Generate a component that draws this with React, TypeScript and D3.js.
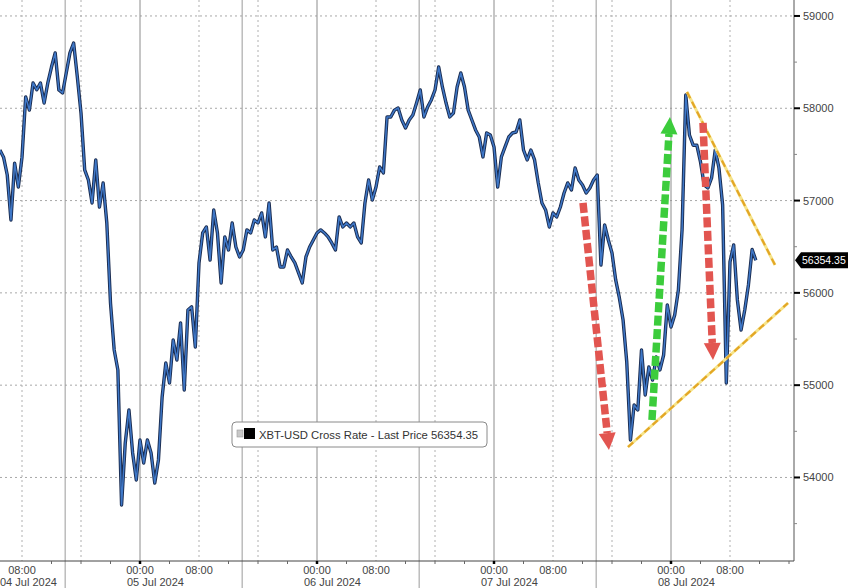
import React from "react";
import * as d3 from "d3";

// ---- data (hours measured from 04 Jul 2024 00:00) ----
const startHour = 5;
const stepHours = 0.5;
const prices: number[] = [
  57548, 57470, 57277, 56790, 57405, 57147, 57470, 58123, 57980, 58274,
  58200, 58274, 58057, 58274, 58447, 58600, 58198, 58166, 58382, 58600,
  58707, 58340, 57949, 57332, 57223, 56974, 57440, 56930, 57190, 56757,
  55890, 55381, 55165, 53702, 54374, 54731, 54266, 53973, 54406, 54157,
  54406, 54266, 53940, 54190, 54872, 55240, 55024, 55490, 55273, 55674,
  54948, 55815, 55848, 55414, 56324, 56649, 56714, 56356, 56898, 56649,
  56107, 56606, 56465, 56757, 56497, 56389, 56465, 56682, 56649, 56790,
  56757, 56866, 56606, 56974, 56465, 56497, 56281, 56281, 56465, 56389,
  56324, 56216, 56107, 56389, 56497, 56573, 56649, 56682, 56649, 56606,
  56541, 56465, 56823, 56714, 56757, 56714, 56757, 56606, 56541, 56974,
  57223, 57006, 57147, 57364, 57299, 57906, 57906, 57980, 58003, 57873,
  57787, 57873, 57927, 58057, 58198, 57906, 58014, 58090, 58198, 58447,
  58231, 58057, 57906, 57949, 58231, 58382, 58231, 57980, 57873, 57765,
  57689, 57473, 57732, 57710, 57581, 57147, 57473, 57581, 57689, 57732,
  57743, 57873, 57548, 57440, 57548, 57440, 57191, 56974, 56898, 56714,
  56866, 56823, 56930, 57082, 57191, 57115, 57353, 57223, 57169, 57082,
  57136, 57223, 57277, 56302, 56736, 56573, 56432, 56140, 55945, 55706,
  55251, 54406, 54786, 54731, 55381, 54894, 55197, 55056, 55305, 55165,
  55327, 55869, 55630, 55760, 56031, 56682, 58144, 57710, 57600, 57600,
  57418, 57169, 57136, 57245, 57548, 57353, 56952, 55024, 56335, 56519,
  55923, 55598, 55815, 56086, 56470, 56354,
];
const lastPriceValue = 56354.35;
const lastPrice = "56354.35";
const seriesName = "XBT-USD Cross Rate - Last Price 56354.35";

const yTicks = [54000, 55000, 56000, 57000, 58000, 59000];
const yMinorTicks = [53500, 54500, 55500, 56500, 57500, 58500];
const midnightHours = [24, 48, 72, 96];
const dottedHours = [8, 16, 32, 40, 56, 64, 80, 88, 104];
const separatorHours = [13.85, 37.85, 61.85, 85.85];
const timeLabels = [
  { h: 8, t: "08:00" }, { h: 24, t: "00:00" }, { h: 32, t: "08:00" },
  { h: 48, t: "00:00" }, { h: 56, t: "08:00" }, { h: 72, t: "00:00" },
  { h: 80, t: "08:00" }, { h: 96, t: "00:00" }, { h: 104, t: "08:00" },
];
const dateLabels = [
  { h: 5, t: "04 Jul 2024" }, { h: 24, t: "05 Jul 2024" }, { h: 48, t: "06 Jul 2024" },
  { h: 72, t: "07 Jul 2024" }, { h: 96, t: "08 Jul 2024" },
];
const minorXTicks = [4, 12, 16, 20, 28, 36, 40, 44, 52, 60, 64, 68, 76, 84, 88, 92, 100, 108, 112];

// annotations in data units [hour, price]
const redArrows = [
  { from: [84.07, 56974], to: [87.59, 54298] },
  { from: [100.34, 57841], to: [101.69, 55273] },
];
const greenArrows = [{ from: [93.42, 54623], to: [95.86, 57906] }];
const wedgeLines = [
  { from: [98.17, 58177], to: [110.1, 56302] },
  { from: [90.17, 54330], to: [111.86, 55890] },
];

const W = 848, H = 588;
const plotRight = 794, plotBottom = 561;

export default function App() {
  const x = d3.scaleLinear().domain([0, 120]).range([-37, -37 + 120 * 7.375]);
  const y = d3.scaleLinear().domain([53095, 59173]).range([plotBottom, 0]);
  const data = prices.map((p, i) => ({ h: startHour + i * stepHours, p }));
  const line = d3.line<{ h: number; p: number }>().x(d => x(d.h)).y(d => y(d.p));
  const pathD = line(data) || "";

  const arrow = (a: { from: number[]; to: number[] }, color: string, key: string) => {
    const x1 = x(a.from[0]), y1 = y(a.from[1]);
    const x2 = x(a.to[0]), y2 = y(a.to[1]);
    const dx = x2 - x1, dy = y2 - y1;
    const len = Math.hypot(dx, dy);
    const ux = dx / len, uy = dy / len;
    const headLen = 17, half = 8.5;
    const bx = x2 - ux * headLen, by = y2 - uy * headLen;
    const px = -uy, py = ux;
    const pts = `${x2},${y2} ${bx + px * half},${by + py * half} ${bx - px * half},${by - py * half}`;
    return (
      <g key={key}>
        <line x1={x1} y1={y1} x2={bx} y2={by} stroke={color} strokeWidth={7.5}
          strokeDasharray="10,3.5" />
        <polygon points={pts} fill={color} />
      </g>
    );
  };

  const font = "'Liberation Sans', Arial, sans-serif";
  const ly = y(lastPriceValue);

  return (
    <svg width={W} height={H} style={{ position: "absolute", left: 0, top: 0, background: "#fff" }}
      fontFamily={font}>
      <defs>
        <clipPath id="plot"><rect x={0} y={0} width={plotRight} height={plotBottom} /></clipPath>
      </defs>
      {yTicks.map(v => (
        <line key={"hg" + v} x1={0} x2={plotRight} y1={y(v)} y2={y(v)} stroke="#a8a8a8"
          strokeWidth={1} strokeDasharray="2,3" />
      ))}
      {dottedHours.map(h => (
        <line key={"vd" + h} x1={x(h)} x2={x(h)} y1={0} y2={plotBottom} stroke="#b0b0b0"
          strokeWidth={1} strokeDasharray="2,3" />
      ))}
      {midnightHours.map(h => (
        <line key={"vm" + h} x1={x(h)} x2={x(h)} y1={0} y2={plotBottom} stroke="#8c8c8c" strokeWidth={1} />
      ))}
      {separatorHours.map(h => (
        <line key={"vs" + h} x1={x(h)} x2={x(h)} y1={0} y2={H} stroke="#9a9a9a" strokeWidth={1} />
      ))}
      <g clipPath="url(#plot)">
        <path d={pathD} fill="none" stroke="#1a2c50" strokeWidth={3.4} strokeLinejoin="round" />
        <path d={pathD} fill="none" stroke="#3f78c8" strokeWidth={1.5} strokeLinejoin="round" />
      </g>
      {wedgeLines.map((l, i) => (
        <g key={"w" + i}>
          <line x1={x(l.from[0])} y1={y(l.from[1])} x2={x(l.to[0])} y2={y(l.to[1])}
            stroke="#f6e48a" strokeWidth={3} />
          <line x1={x(l.from[0])} y1={y(l.from[1])} x2={x(l.to[0])} y2={y(l.to[1])}
            stroke="#e3a626" strokeWidth={2.2} strokeDasharray="7,4" />
        </g>
      ))}
      {redArrows.map((a, i) => arrow(a, "#e25550", "r" + i))}
      {greenArrows.map((a, i) => arrow(a, "#3ccc3c", "g" + i))}
      <rect x={232} y={422} width={255} height={25} rx={4} fill="#fff" stroke="#8a8a8a" strokeWidth={1} />
      <rect x={237} y={430} width={6} height={7} fill="#c8c8c8" stroke="#999" strokeWidth={0.6} />
      <rect x={244} y={428} width={11} height={11} fill="#000" />
      <text x={259} y={439} fontSize={11.3} fill="#333">{seriesName}</text>
      <line x1={plotRight} x2={plotRight} y1={0} y2={plotBottom} stroke="#555" strokeWidth={1} />
      {yMinorTicks.map(v => (
        <line key={"ym" + v} x1={plotRight} x2={plotRight + 3} y1={y(v)} y2={y(v)} stroke="#888" />
      ))}
      {yTicks.map(v => (
        <g key={"yt" + v}>
          <line x1={plotRight} x2={plotRight + 6} y1={y(v)} y2={y(v)} stroke="#000" strokeWidth={2} />
          <text x={803} y={y(v) + 4} fontSize={11} fill="#444">{v}</text>
        </g>
      ))}
      <path d={`M${plotRight + 1},${ly} L${plotRight + 7},${ly - 8} H${W} V${ly + 8} H${plotRight + 7} Z`}
        fill="#000" />
      <text x={802} y={ly + 4} fontSize={10.5} fill="#fff">{lastPrice}</text>
      <line x1={0} x2={plotRight} y1={plotBottom} y2={plotBottom} stroke="#444" strokeWidth={1} />
      {minorXTicks.map(h => (
        <line key={"xm" + h} x1={x(h)} x2={x(h)} y1={plotBottom} y2={plotBottom + 3} stroke="#666" />
      ))}
      {midnightHours.map(h => (
        <line key={"xM" + h} x1={x(h)} x2={x(h)} y1={plotBottom} y2={plotBottom + 3} stroke="#000" strokeWidth={2.5} />
      ))}
      {timeLabels.map((l, i) => (
        <text key={"tl" + i} x={x(l.h)} y={574} fontSize={11} fill="#444" textAnchor="middle">{l.t}</text>
      ))}
      {dateLabels.map((l, i) => (
        <text key={"dl" + i} x={i === 0 ? 0 : x(l.h) - 13} y={586} fontSize={11} fill="#444">{l.t}</text>
      ))}
    </svg>
  );
}
